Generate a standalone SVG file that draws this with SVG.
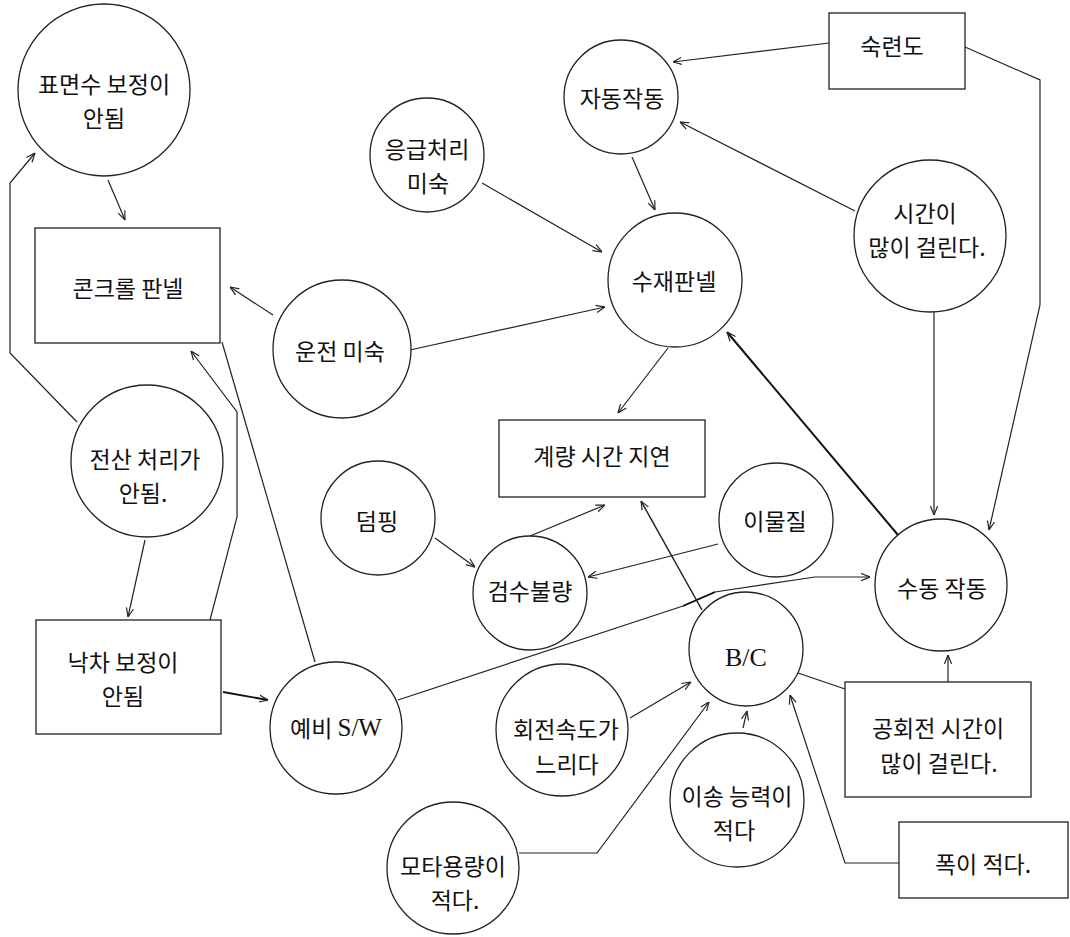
<svg xmlns="http://www.w3.org/2000/svg" width="1070" height="937" viewBox="0 0 1070 937">
<defs>
<style>
.n{fill:#fff;stroke:#222;stroke-width:1.3}
.t{font-family:"Noto Sans CJK KR","Noto Sans",sans-serif;font-size:23px;fill:#111;text-anchor:middle;dominant-baseline:central}
.l{font-family:"Liberation Serif",serif;font-size:25px;fill:#111}
.c{fill:none;stroke:#222;stroke-width:1.2}
.k{fill:none;stroke:#111;stroke-width:2}
.a{marker-end:url(#arr)}
</style>
<marker id="arr" viewBox="0 0 10 10" refX="10" refY="5" markerWidth="9" markerHeight="9" orient="auto" markerUnits="userSpaceOnUse">
<path d="M0,1 L10,5 L0,9" fill="none" stroke="#222" stroke-width="1.3"/>
</marker>
</defs>
<rect width="1070" height="937" fill="#fff"/>

<g id="connectors">
<line class="c a" x1="108" y1="180" x2="125" y2="220"/>
<polyline class="c a" points="77,422 10,353 10,183 35,153"/>
<line class="c a" x1="145" y1="540" x2="128" y2="617"/>
<polyline class="c a" points="210,620 237,517 237,412 191,351"/>
<line class="c" x1="222" y1="342" x2="315" y2="662"/>
<line class="c a" x1="273" y1="315" x2="230" y2="287"/>
<line class="c a" x1="410" y1="350" x2="605" y2="307"/>
<line class="c a" x1="482" y1="183" x2="602" y2="252"/>
<line class="c a" x1="632" y1="157" x2="655" y2="210"/>
<line class="c a" x1="829" y1="43" x2="673" y2="62"/>
<line class="c a" x1="855" y1="211" x2="680" y2="122"/>
<polyline class="c a" points="965,47 1040,80 1040,305 989,530"/>
<line class="c a" x1="934" y1="312" x2="934" y2="515"/>
<line class="k a" x1="898" y1="535" x2="727" y2="332"/>
<line class="c a" x1="668" y1="348" x2="618" y2="413"/>
<line class="c a" x1="435" y1="538" x2="475" y2="567"/>
<line class="c a" x1="530" y1="536" x2="605" y2="505"/>
<line class="c a" x1="718" y1="544" x2="588" y2="577"/>
<polyline class="c a" points="398,700 683,606 715,592 815,577 870,577"/>
<line class="k" x1="683" y1="606" x2="715" y2="592" style="stroke-width:1.8"/>
<line class="c a" x1="702" y1="610" x2="641" y2="501" style="stroke-width:1.5"/>
<line class="k a" x1="223" y1="692" x2="268" y2="700" style="stroke-width:1.8"/>
<line class="c a" x1="630" y1="718" x2="691" y2="682"/>
<polyline class="c a" points="519,853 597,853 709,702"/>
<line class="c a" x1="743" y1="728" x2="747" y2="711"/>
<polyline class="c a" points="899,863 845,863 790,695"/>
<line class="c" x1="798" y1="673" x2="845" y2="689"/>
<line class="c a" x1="948" y1="682" x2="948" y2="655"/>
</g>

<g id="n-pyomyeonsu"><circle class="n" cx="104" cy="90" r="86"/><text class="t" x="104" y="83">표면수 보정이</text><text class="t" x="104" y="117">안됨</text></g>
<g id="n-control-panel"><rect class="n" x="35" y="228" width="185" height="115"/><text class="t" x="128" y="287">콘크롤 판넬</text></g>
<g id="n-jeonsan"><circle class="n" cx="147" cy="461" r="76"/><text class="t" x="145" y="458">전산 처리가</text><text class="t" x="143" y="492">안됨.</text></g>
<g id="n-nakcha"><rect class="n" x="36" y="620" width="185" height="114"/><text class="t" x="123" y="661">낙차 보정이</text><text class="t" x="123" y="695">안됨</text></g>
<g id="n-yebi"><circle class="n" cx="336" cy="728" r="66"/><text class="t" x="336" y="727"><tspan>예비 </tspan><tspan class="l">S/W</tspan></text></g>
<g id="n-unjeon"><circle class="n" cx="342" cy="349" r="69"/><text class="t" x="340" y="350">운전 미숙</text></g>
<g id="n-eunggeup"><circle class="n" cx="427" cy="155" r="57"/><text class="t" x="427" y="148">응급처리</text><text class="t" x="428" y="182">미숙</text></g>
<g id="n-jadong"><circle class="n" cx="621" cy="97" r="57"/><text class="t" x="622" y="97">자동작동</text></g>
<g id="n-sujae"><circle class="n" cx="675" cy="280" r="67"/><text class="t" x="674" y="280">수재판넬</text></g>
<g id="n-sukryeon"><rect class="n" x="829" y="13" width="136" height="76"/><text class="t" x="892" y="45">숙련도</text></g>
<g id="n-sigan"><circle class="n" cx="930" cy="236" r="76"/><text class="t" x="925" y="212">시간이</text><text class="t" x="927" y="246">많이 걸린다.</text></g>
<g id="n-gyeryang"><rect class="n" x="499" y="420" width="206" height="77"/><text class="t" x="602" y="455">계량 시간 지연</text></g>
<g id="n-dumping"><circle class="n" cx="378" cy="518" r="57"/><text class="t" x="377" y="520">덤핑</text></g>
<g id="n-geomsu"><circle class="n" cx="530" cy="593" r="57"/><text class="t" x="530" y="590">검수불량</text></g>
<g id="n-imul"><circle class="n" cx="776" cy="520" r="57"/><text class="t" x="775" y="520">이물질</text></g>
<g id="n-sudong"><circle class="n" cx="941" cy="585" r="66"/><text class="t" x="942" y="587">수동 작동</text></g>
<g id="n-bc"><circle class="n" cx="746" cy="649" r="57"/><text class="t l" x="746" y="657" style="font-size:26px">B/C</text></g>
<g id="n-hoejeon"><circle class="n" cx="562" cy="730" r="66"/><text class="t" x="566" y="728">회전속도가</text><text class="t" x="567" y="763">느리다</text></g>
<g id="n-iseong"><circle class="n" cx="737" cy="800" r="67"/><text class="t" x="737" y="795">이송 능력이</text><text class="t" x="734" y="829">적다</text></g>
<g id="n-mota"><circle class="n" cx="453" cy="868" r="66"/><text class="t" x="453" y="865">모타용량이</text><text class="t" x="455" y="899">적다.</text></g>
<g id="n-gonghoejeon"><rect class="n" x="845" y="682" width="186" height="115"/><text class="t" x="938" y="727">공회전 시간이</text><text class="t" x="939" y="762">많이 걸린다.</text></g>
<g id="n-pok"><rect class="n" x="899" y="822" width="169" height="76"/><text class="t" x="983" y="863">폭이 적다.</text></g>
</svg>
